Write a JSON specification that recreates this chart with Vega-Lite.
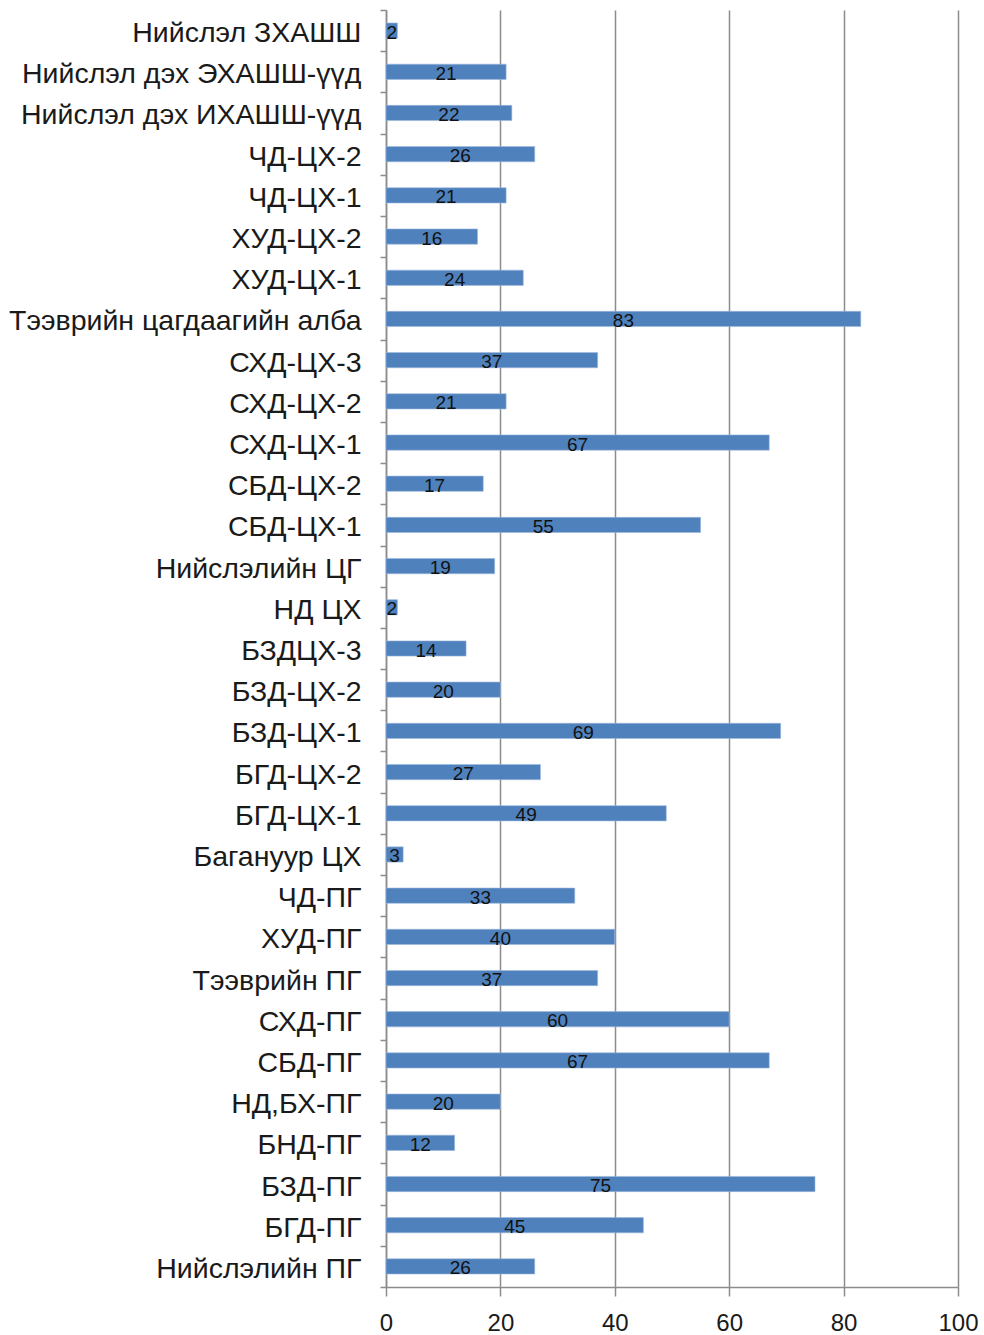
{
  "$schema": "https://vega.github.io/schema/vega-lite/v6.json",
  "autosize": {"type": "none"},
  "width": 572,
  "height": 1277,
  "padding": {"left": 386, "top": 10, "right": 26, "bottom": 48},
  "background": "white",
  "data": {"values": [
    {"name": "Нийслэл ЗХАШШ", "value": 2},
    {"name": "Нийслэл дэх ЭХАШШ-үүд", "value": 21},
    {"name": "Нийслэл дэх ИХАШШ-үүд", "value": 22},
    {"name": "ЧД-ЦХ-2", "value": 26},
    {"name": "ЧД-ЦХ-1", "value": 21},
    {"name": "ХУД-ЦХ-2", "value": 16},
    {"name": "ХУД-ЦХ-1", "value": 24},
    {"name": "Тээврийн цагдаагийн алба", "value": 83},
    {"name": "СХД-ЦХ-3", "value": 37},
    {"name": "СХД-ЦХ-2", "value": 21},
    {"name": "СХД-ЦХ-1", "value": 67},
    {"name": "СБД-ЦХ-2", "value": 17},
    {"name": "СБД-ЦХ-1", "value": 55},
    {"name": "Нийслэлийн ЦГ", "value": 19},
    {"name": "НД ЦХ", "value": 2},
    {"name": "БЗДЦХ-3", "value": 14},
    {"name": "БЗД-ЦХ-2", "value": 20},
    {"name": "БЗД-ЦХ-1", "value": 69},
    {"name": "БГД-ЦХ-2", "value": 27},
    {"name": "БГД-ЦХ-1", "value": 49},
    {"name": "Багануур ЦХ", "value": 3},
    {"name": "ЧД-ПГ", "value": 33},
    {"name": "ХУД-ПГ", "value": 40},
    {"name": "Тээврийн ПГ", "value": 37},
    {"name": "СХД-ПГ", "value": 60},
    {"name": "СБД-ПГ", "value": 67},
    {"name": "НД,БХ-ПГ", "value": 20},
    {"name": "БНД-ПГ", "value": 12},
    {"name": "БЗД-ПГ", "value": 75},
    {"name": "БГД-ПГ", "value": 45},
    {"name": "Нийслэлийн ПГ", "value": 26}
  ]},
  "config": {
    "view": {"stroke": null},
    "font": "Liberation Sans"
  },
  "encoding": {
    "y": {
      "field": "name", "type": "nominal", "sort": null,
      "scale": {"paddingInner": 0, "paddingOuter": 0},
      "axis": {
        "title": null,
        "labelFont": "Liberation Sans",
        "labelFontSize": 28.5,
        "labelColor": "#1a1a1a",
        "labelPadding": 19,
        "labelOffset": 2,
        "labelLimit": 400,
        "tickBand": "extent",
        "tickSize": 6,
        "tickColor": "#8c8c8c",
        "tickWidth": 1.5,
        "domainColor": "#8c8c8c",
        "domainWidth": 1.5,
        "grid": false
      }
    }
  },
  "layer": [
    {
      "mark": {"type": "bar", "color": "#4F81BD", "stroke": "#9DB9DD", "strokeWidth": 0.6, "height": {"band": 0.37}},
      "encoding": {
        "x": {
          "field": "value", "type": "quantitative",
          "scale": {"domain": [0, 100], "nice": false},
          "axis": {
            "title": null,
            "values": [0, 20, 40, 60, 80, 100],
            "labelFont": "Liberation Sans",
            "labelFontSize": 24,
            "labelColor": "#1a1a1a",
            "labelPadding": 15,
            "labelFlush": false,
            "tickSize": 9,
            "tickColor": "#8c8c8c",
            "tickWidth": 1.5,
            "domainColor": "#8c8c8c",
            "domainWidth": 1.5,
            "grid": true,
            "gridColor": "#8c8c8c",
            "gridWidth": 1.5
          }
        }
      }
    },
    {
      "mark": {"type": "text", "fontSize": 19, "color": "#111111", "baseline": "middle", "dy": 2, "font": "Liberation Sans"},
      "encoding": {
        "x": {
          "field": "value", "type": "quantitative",
          "scale": {"domain": [0, 200], "nice": false},
          "axis": null
        },
        "text": {"field": "value", "type": "quantitative"}
      }
    }
  ],
  "resolve": {"scale": {"x": "independent"}}
}
